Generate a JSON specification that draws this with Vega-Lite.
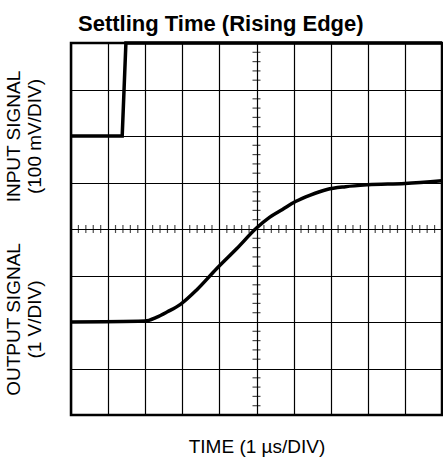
{
  "$schema": "https://vega.github.io/schema/vega-lite/v6.json",
  "width": 371,
  "height": 372,
  "autosize": "none",
  "padding": {"left": 71, "top": 43, "right": 1, "bottom": 45},
  "background": "white",
  "config": {
    "view": {"stroke": "black", "strokeWidth": 2.5},
    "font": "Liberation Sans"
  },
  "title": {
    "text": "Settling Time (Rising Edge)",
    "font": "Liberation Sans",
    "fontSize": 22,
    "fontWeight": "bold",
    "color": "black",
    "anchor": "start",
    "frame": "group",
    "dx": 7,
    "baseline": "alphabetic",
    "offset": -17
  },
  "datasets": {
    "input": [
      {"t": 0, "v": 6},
      {"t": 1.38, "v": 6},
      {"t": 1.48, "v": 8},
      {"t": 10, "v": 8}
    ],
    "output": [
      {"t": 0, "v": 2.0},
      {"t": 2.0, "v": 2.02},
      {"t": 2.3, "v": 2.1},
      {"t": 2.6, "v": 2.22},
      {"t": 2.95, "v": 2.38},
      {"t": 3.4, "v": 2.7},
      {"t": 3.93, "v": 3.15},
      {"t": 4.47, "v": 3.58},
      {"t": 5.0, "v": 4.02},
      {"t": 5.35, "v": 4.25},
      {"t": 5.7, "v": 4.42},
      {"t": 6.05, "v": 4.59},
      {"t": 6.45, "v": 4.73},
      {"t": 6.9, "v": 4.85},
      {"t": 7.4, "v": 4.91},
      {"t": 8.0, "v": 4.95},
      {"t": 9.0, "v": 4.98},
      {"t": 10, "v": 5.04}
    ],
    "hticks": [
      {"t": 0.2}, {"t": 0.4}, {"t": 0.6}, {"t": 0.8},
      {"t": 1.2}, {"t": 1.4}, {"t": 1.6}, {"t": 1.8},
      {"t": 2.2}, {"t": 2.4}, {"t": 2.6}, {"t": 2.8},
      {"t": 3.2}, {"t": 3.4}, {"t": 3.6}, {"t": 3.8},
      {"t": 4.2}, {"t": 4.4}, {"t": 4.6}, {"t": 4.8},
      {"t": 5.2}, {"t": 5.4}, {"t": 5.6}, {"t": 5.8},
      {"t": 6.2}, {"t": 6.4}, {"t": 6.6}, {"t": 6.8},
      {"t": 7.2}, {"t": 7.4}, {"t": 7.6}, {"t": 7.8},
      {"t": 8.2}, {"t": 8.4}, {"t": 8.6}, {"t": 8.8},
      {"t": 9.2}, {"t": 9.4}, {"t": 9.6}, {"t": 9.8}
    ],
    "vticks": [
      {"v": 0.2}, {"v": 0.4}, {"v": 0.6}, {"v": 0.8},
      {"v": 1.2}, {"v": 1.4}, {"v": 1.6}, {"v": 1.8},
      {"v": 2.2}, {"v": 2.4}, {"v": 2.6}, {"v": 2.8},
      {"v": 3.2}, {"v": 3.4}, {"v": 3.6}, {"v": 3.8},
      {"v": 4.2}, {"v": 4.4}, {"v": 4.6}, {"v": 4.8},
      {"v": 5.2}, {"v": 5.4}, {"v": 5.6}, {"v": 5.8},
      {"v": 6.2}, {"v": 6.4}, {"v": 6.6}, {"v": 6.8},
      {"v": 7.2}, {"v": 7.4}, {"v": 7.6}, {"v": 7.8}
    ]
  },
  "resolve": {"scale": {"y": "independent"}, "axis": {"y": "independent"}},
  "layer": [
    {
      "layer": [
        {
          "data": {"name": "hticks"},
          "mark": {"type": "tick", "orient": "vertical", "size": 8, "thickness": 1.2, "color": "black"},
          "encoding": {
            "x": {
              "field": "t", "type": "quantitative",
              "scale": {"domain": [0, 10], "nice": false, "zero": false},
              "axis": {
                "values": [0, 1, 2, 3, 4, 5, 6, 7, 8, 9, 10],
                "grid": true, "gridColor": "black", "gridOpacity": 1, "gridWidth": 1.2,
                "ticks": false, "labels": false, "domain": false,
                "title": "TIME (1 µs/DIV)",
                "titleFont": "Liberation Sans",
                "titleFontSize": 19, "titleFontWeight": "normal", "titleColor": "black",
                "titlePadding": 22
              }
            },
            "y": {
              "datum": 4, "type": "quantitative",
              "scale": {"domain": [0, 8], "nice": false, "zero": false},
              "axis": {
                "values": [0, 1, 2, 3, 4, 5, 6, 7, 8],
                "grid": true, "gridColor": "black", "gridOpacity": 1, "gridWidth": 1.2,
                "ticks": false, "labels": false, "domain": false,
                "title": ["INPUT SIGNAL", "(100 mV/DIV)"],
                "titleFont": "Liberation Sans",
                "titleFontSize": 19, "titleFontWeight": "normal", "titleColor": "black",
                "titleAngle": 270, "titleAlign": "center", "titleBaseline": "top",
                "titleX": -67, "titleY": 93, "titleLineHeight": 21
              }
            }
          }
        },
        {
          "data": {"name": "vticks"},
          "mark": {"type": "tick", "orient": "horizontal", "size": 8, "thickness": 1.2, "color": "black"},
          "encoding": {
            "x": {
              "datum": 5, "type": "quantitative",
              "scale": {"domain": [0, 10], "nice": false, "zero": false},
              "axis": {
                "values": [0, 1, 2, 3, 4, 5, 6, 7, 8, 9, 10],
                "grid": true, "gridColor": "black", "gridOpacity": 1, "gridWidth": 1.2,
                "ticks": false, "labels": false, "domain": false,
                "title": "TIME (1 µs/DIV)",
                "titleFont": "Liberation Sans",
                "titleFontSize": 19, "titleFontWeight": "normal", "titleColor": "black",
                "titlePadding": 22
              }
            },
            "y": {"field": "v", "type": "quantitative", "scale": {"domain": [0, 8], "nice": false, "zero": false}}
          }
        },
        {
          "data": {"name": "input"},
          "mark": {"type": "line", "color": "black", "strokeWidth": 3.5, "strokeJoin": "miter"},
          "encoding": {
            "x": {
              "field": "t", "type": "quantitative",
              "scale": {"domain": [0, 10], "nice": false, "zero": false},
              "axis": {
                "values": [0, 1, 2, 3, 4, 5, 6, 7, 8, 9, 10],
                "grid": true, "gridColor": "black", "gridOpacity": 1, "gridWidth": 1.2,
                "ticks": false, "labels": false, "domain": false,
                "title": "TIME (1 µs/DIV)",
                "titleFont": "Liberation Sans",
                "titleFontSize": 19, "titleFontWeight": "normal", "titleColor": "black",
                "titlePadding": 22
              }
            },
            "y": {"field": "v", "type": "quantitative", "scale": {"domain": [0, 8], "nice": false, "zero": false}}
          }
        }
      ]
    },
    {
      "data": {"name": "output"},
      "mark": {"type": "line", "color": "black", "strokeWidth": 3.5, "interpolate": "monotone"},
      "encoding": {
        "x": {
          "field": "t", "type": "quantitative",
          "scale": {"domain": [0, 10], "nice": false, "zero": false},
          "axis": {
            "values": [0, 1, 2, 3, 4, 5, 6, 7, 8, 9, 10],
            "grid": true, "gridColor": "black", "gridOpacity": 1, "gridWidth": 1.2,
            "ticks": false, "labels": false, "domain": false,
            "title": "TIME (1 µs/DIV)",
            "titleFont": "Liberation Sans",
            "titleFontSize": 19, "titleFontWeight": "normal", "titleColor": "black",
            "titlePadding": 22
          }
        },
        "y": {
          "field": "v", "type": "quantitative",
          "scale": {"domain": [0, 8], "nice": false, "zero": false},
          "axis": {
            "grid": false, "ticks": false, "labels": false, "domain": false,
            "orient": "left",
            "title": ["OUTPUT SIGNAL", "(1 V/DIV)"],
            "titleFont": "Liberation Sans",
            "titleFontSize": 19, "titleFontWeight": "normal", "titleColor": "black",
            "titleAngle": 270, "titleAlign": "center", "titleBaseline": "top",
            "titleX": -67, "titleY": 276, "titleLineHeight": 21
          }
        }
      }
    }
  ]
}
